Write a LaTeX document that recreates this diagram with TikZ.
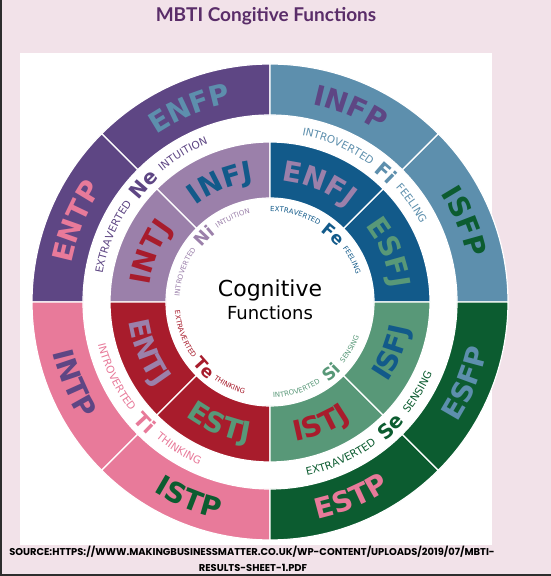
\documentclass[tikz,border=0pt]{standalone}
\usepackage{fontspec}
\setmainfont{DejaVu Sans}
\newfontfamily\titlefont{Lato}
\newfontfamily\srcfont{Poppins}
\usetikzlibrary{decorations.text}
\usepackage{xcolor}
\definecolor{pageBg}{RGB}{242,226,233}
\definecolor{titleInk}{RGB}{90,45,105}
\definecolor{frameInk}{RGB}{45,45,45}
\definecolor{neRing}{RGB}{94,70,132}
\definecolor{niRing}{RGB}{155,128,170}
\definecolor{fiRing}{RGB}{93,143,173}
\definecolor{feRing}{RGB}{18,90,138}
\definecolor{tiRing}{RGB}{232,122,154}
\definecolor{teRing}{RGB}{168,28,44}
\definecolor{seRing}{RGB}{12,92,48}
\definecolor{siRing}{RGB}{88,152,120}

\newcommand{\typesize}{\fontsize{28}{28}\selectfont\bfseries}
\newcommand{\outsmall}{\fontsize{10.5}{10.5}\selectfont}
\newcommand{\outcode}{\fontsize{20}{20}\selectfont\bfseries}
\newcommand{\insmall}{\fontsize{7}{7}\selectfont}
\newcommand{\incode}{\fontsize{17}{17}\selectfont\bfseries}

% text set along an arc round the centre: radius, from, to, align, format, text
\newcommand{\arctext}[6]{%
  \path[decorate, decoration={text along path, text align=#4, text={|#5|#6}}]
    (#2:#1) arc[start angle=#2, end angle=#3, radius=#1];}

\begin{document}
\begin{tikzpicture}[x=1pt, y=1pt,
    seg/.style={draw=white, line width=1.2pt},
    label/.style={inner sep=0pt, anchor=base}
]
\useasboundingbox (0,0) rectangle (551,576);
\fill[pageBg] (0,0) rectangle (551,576);
\fill[white] (20,31) rectangle (492,523);
\draw[frameInk, line width=2pt] (1,576) -- (1,1) -- (551,1);

\node[label, font=\titlefont\bfseries\fontsize{19}{19}\selectfont, text=titleInk] (title) at (266,554) {MBTI Congitive Functions};

\begin{scope}[shift={(270,274)}]
% rings
\foreach \a/\co/\ci in {90/neRing/niRing, 0/fiRing/feRing, 180/tiRing/teRing, 270/seRing/siRing}
  \foreach \s in {0,45} {
    \filldraw[seg, fill=\co] (\a+\s:187) arc[start angle=\a+\s, end angle=\a+\s+45, radius=187]
      -- (\a+\s+45:238) arc[start angle=\a+\s+45, end angle=\a+\s, radius=238] -- cycle;
    \filldraw[seg, fill=\ci] (\a+\s:104) arc[start angle=\a+\s, end angle=\a+\s+45, radius=104]
      -- (\a+\s+45:160) arc[start angle=\a+\s+45, end angle=\a+\s, radius=160] -- cycle;
  }

% types, outer ring
\arctext{202.3}{152.5}{72.5}{center}{\typesize\color{fiRing}}{ENFP}
\arctext{202.3}{197.5}{117.5}{center}{\typesize\color{tiRing}}{ENTP}
\arctext{202.3}{107.5}{27.5}{center}{\typesize\color{neRing}}{INFP}
\arctext{202.3}{62.5}{-17.5}{center}{\typesize\color{seRing}}{ISFP}
\arctext{222.7}{-62.5}{17.5}{center}{\typesize\color{fiRing}}{ESFP}
\arctext{222.7}{-107.5}{-27.5}{center}{\typesize\color{tiRing}}{ESTP}
\arctext{222.7}{-152.5}{-72.5}{center}{\typesize\color{seRing}}{ISTP}
\arctext{222.7}{-197.5}{-117.5}{center}{\typesize\color{neRing}}{INTP}
% types, inner ring
\arctext{121.8}{152.5}{72.5}{center}{\typesize\color{feRing}}{INFJ}
\arctext{121.8}{197.5}{117.5}{center}{\typesize\color{teRing}}{INTJ}
\arctext{121.8}{107.5}{27.5}{center}{\typesize\color{niRing}}{ENFJ}
\arctext{121.8}{62.5}{-17.5}{center}{\typesize\color{siRing}}{ESFJ}
\arctext{142.2}{-62.5}{17.5}{center}{\typesize\color{feRing}}{ISFJ}
\arctext{142.2}{-107.5}{-27.5}{center}{\typesize\color{teRing}}{ISTJ}
\arctext{142.2}{-152.5}{-72.5}{center}{\typesize\color{siRing}}{ESTJ}
\arctext{142.2}{-197.5}{-117.5}{center}{\typesize\color{niRing}}{ENTJ}

% functions, between the rings
\arctext{169.7}{214.5}{144.5}{right}{\outsmall\color{neRing}}{EXTRAVERTED}
\arctext{166.2}{177}{97}{center}{\outcode\color{neRing}}{Ne}
\arctext{169.7}{129.5}{59.5}{left}{\outsmall\color{neRing}}{INTUITION}
\arctext{169.7}{123.7}{53.7}{right}{\outsmall\color{fiRing}}{INTROVERTED}
\arctext{166.2}{88}{8}{center}{\outcode\color{fiRing}}{Fi}
\arctext{169.7}{42.3}{-27.7}{left}{\outsmall\color{fiRing}}{FEELING}
\arctext{177.3}{-211.9}{-141.9}{right}{\outsmall\color{tiRing}}{INTROVERTED}
\arctext{180.8}{-176}{-96}{center}{\outcode\color{tiRing}}{Ti}
\arctext{177.3}{-130.1}{-60.1}{left}{\outsmall\color{tiRing}}{THINKING}
\arctext{177.3}{-123.1}{-53.1}{right}{\outsmall\color{seRing}}{EXTRAVERTED}
\arctext{180.8}{-86}{-6}{center}{\outcode\color{seRing}}{Se}
\arctext{177.3}{-38.9}{31.1}{left}{\outsmall\color{seRing}}{SENSING}
% functions, inside the inner ring
\arctext{90.5}{214.7}{144.7}{right}{\insmall\color{niRing}}{INTROVERTED}
\arctext{86.8}{175}{95}{center}{\incode\color{niRing}}{Ni}
\arctext{90.5}{125.3}{55.3}{left}{\insmall\color{niRing}}{INTUITION}
\arctext{90.5}{127.4}{57.4}{right}{\insmall\color{feRing}}{EXTRAVERTED}
\arctext{86.8}{87}{7}{center}{\incode\color{feRing}}{Fe}
\arctext{90.5}{36.6}{-33.4}{left}{\insmall\color{feRing}}{FEELING}
\arctext{95.6}{-213.9}{-143.9}{right}{\insmall\color{teRing}}{EXTRAVERTED}
\arctext{99.2}{-175}{-95}{center}{\incode\color{teRing}}{Te}
\arctext{95.6}{-126.1}{-56.1}{left}{\insmall\color{teRing}}{THINKING}
\arctext{95.6}{-128.1}{-58.1}{right}{\insmall\color{siRing}}{INTROVERTED}
\arctext{99.2}{-89}{-9}{center}{\incode\color{siRing}}{Si}
\arctext{95.6}{-39.9}{30.1}{left}{\insmall\color{siRing}}{SENSING}
\end{scope}

\node[label, font=\fontsize{22}{22}\selectfont] (cog) at (270,279) {Cognitive};
\node[label, font=\fontsize{18}{18}\selectfont] (fun) at (270,256) {Functions};

\node[label, font=\srcfont\bfseries\fontsize{9.9}{9.9}\selectfont] (src1) at (252,20) {SOURCE:HTTPS://WWW.MAKINGBUSINESSMATTER.CO.UK/WP-CONTENT/UPLOADS/2019/07/MBTI-};
\node[label, font=\srcfont\bfseries\fontsize{9.9}{9.9}\selectfont] (src2) at (253,5) {RESULTS-SHEET-1.PDF};
\end{tikzpicture}
\end{document}
